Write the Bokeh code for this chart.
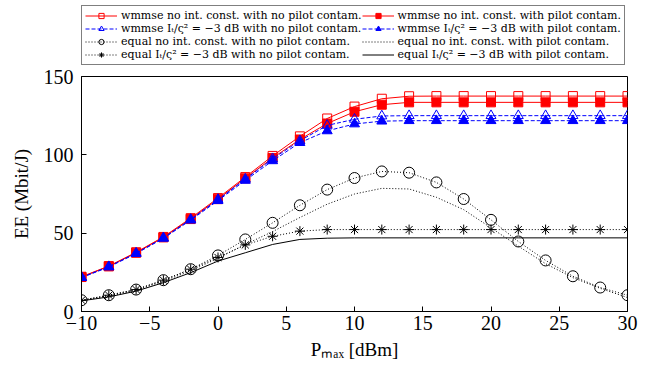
from bokeh.plotting import figure
from bokeh.layouts import column
from bokeh.models import Legend, LegendItem, Range1d, FixedTicker
from bokeh.embed import file_html
from bokeh.resources import INLINE

x = [-10, -8, -6, -4, -2, 0, 2, 4, 6, 8, 10, 12, 14, 16, 18, 20, 22, 24, 26, 28, 30]

wmmse_noint_nopc = [22.2, 29, 37.8, 47.6, 59.6, 72.4, 85.8, 99.3, 111.8, 123.2, 130.8, 135.8, 137.4,
                    137.5, 137.5, 137.5, 137.5, 137.5, 137.5, 137.5, 137.5]
wmmse_noint_pc = [22.0, 28.8, 37.5, 47.3, 59.0, 71.7, 85.0, 98.0, 109.8, 120.0, 127.5, 132.0, 133.5,
                  133.5, 133.5, 133.5, 133.5, 133.5, 133.5, 133.5, 133.5]
wmmse_3db_nopc = [21.8, 28.6, 37.2, 47.0, 58.8, 71.5, 84.5, 97.5, 109.0, 118.8, 122.7, 124.8, 125.0,
                  125.0, 125.0, 125.0, 125.0, 125.0, 125.0, 125.0, 125.0]
wmmse_3db_pc = [21.6, 28.4, 37.0, 46.7, 58.3, 70.8, 83.7, 96.2, 107.8, 115.3, 119.7, 121.5, 121.8,
                121.8, 121.8, 121.8, 121.8, 121.8, 121.8, 121.8, 121.8]
equal_noint_nopc = [7.2, 10.4, 14.0, 20.0, 27.0, 35.8, 46.0, 56.6, 67.8, 77.8, 85.2, 89.4, 88.6,
                    82.4, 71.8, 58.5, 44.7, 32.6, 22.5, 15.3, 10.4]
equal_noint_pc = [7.0, 9.8, 13.5, 19.3, 26.0, 34.0, 42.8, 51.0, 60.0, 68.5, 75.0, 78.6, 78.2,
                  72.9, 65.0, 53.4, 41.7, 30.5, 21.6, 14.8, 8.9]
equal_3db_nopc = [7.2, 10.4, 14.0, 20.0, 27.0, 34.5, 42.5, 48.0, 51.3, 52.3, 52.3, 52.3, 52.3,
                  52.3, 52.3, 52.3, 52.3, 52.3, 52.3, 52.3, 52.3]
equal_3db_pc = [6.8, 9.3, 13.0, 18.4, 24.8, 32.2, 37.5, 42.8, 46.0, 46.8, 47.0, 47.0, 47.0,
                47.0, 47.0, 47.0, 47.0, 47.0, 47.0, 47.0, 47.0]

labels = [
    "wmmse no int. const. with no pilot contam.",
    "wmmse no int. const. with pilot contam.",
    "wmmse I\u209c/\u03c2\u00b2 = \u22123 dB with no pilot contam.",
    "wmmse I\u209c/\u03c2\u00b2 = \u22123 dB with pilot contam.",
    "equal no int. const. with no pilot contam.",
    "equal no int. const. with pilot contam.",
    "equal I\u209c/\u03c2\u00b2 = \u22123 dB with no pilot contam.",
    "equal I\u209c/\u03c2\u00b2 = \u22123 dB with pilot contam.",
]
x_ticks = [-10, -5, 0, 5, 10, 15, 20, 25, 30]
y_ticks = [0, 50, 100, 150]

FONT = "Liberation Serif"
LEG_FONT = "DejaVu Serif"
RED = "#ff0000"
BLUE = "#0000ff"

series = [
    (wmmse_noint_nopc, RED, "solid", "square", False, 9),
    (wmmse_noint_pc, RED, "solid", "square", True, 9),
    (wmmse_3db_nopc, BLUE, "dashed", "triangle", False, 10),
    (wmmse_3db_pc, BLUE, "dashed", "triangle", True, 10),
    (equal_noint_nopc, "black", "dotted", "circle", False, 11),
    (equal_noint_pc, "black", "dotted", None, False, 0),
    (equal_3db_nopc, "black", "dotted", "asterisk", False, 10),
    (equal_3db_pc, "black", "solid", None, False, 0),
]
dash_map = {"solid": "solid", "dashed": "4 2", "dotted": "1 2"}


def draw(fig):
    out = []
    for (ys, col, dash, marker, filled, size) in series:
        rs = [fig.line(x, ys, line_color=col, line_width=1, line_dash=dash_map[dash])]
        if marker:
            rs.append(fig.scatter(x, ys, marker=marker, size=size, line_color=col, line_width=1,
                                  fill_color=col if filled else None))
        out.append(rs)
    return out


# ---- main plot ----
p = figure(width=650, height=299, output_backend="svg", toolbar_location=None,
           x_range=Range1d(-10, 30), y_range=Range1d(0, 150),
           min_border_left=81, min_border_right=23, min_border_top=10, min_border_bottom=54)
p.frame_align = False
p.xgrid.visible = False
p.ygrid.visible = False
p.outline_line_color = "black"
p.outline_line_width = 1
draw(p)

for ax in (p.xaxis[0], p.yaxis[0]):
    ax.major_label_text_font = FONT
    ax.major_label_text_font_size = "20px"
    ax.major_label_text_color = "black"
    ax.axis_label_text_font = FONT
    ax.axis_label_text_font_size = "19px"
    ax.axis_label_text_font_style = "normal"
    ax.axis_label_text_color = "black"
    ax.major_tick_in = 5
    ax.major_tick_out = 0
    ax.minor_tick_in = 0
    ax.minor_tick_out = 0
    ax.axis_line_color = "black"
    ax.major_tick_line_color = "black"

p.xaxis[0].ticker = FixedTicker(ticks=x_ticks)
p.yaxis[0].ticker = FixedTicker(ticks=y_ticks)
p.xaxis[0].axis_label = "P\u2098\u2090\u2093 [dBm]"
p.yaxis[0].axis_label = "EE (Mbit/J)"
p.xaxis[0].major_label_standoff = 4
p.xaxis[0].axis_label_standoff = 6
p.yaxis[0].major_label_standoff = 8
p.yaxis[0].axis_label_standoff = 9

# ---- legend strip on top ----
lf = figure(width=650, height=66, output_backend="svg", toolbar_location=None,
            x_range=Range1d(1000, 1001), y_range=Range1d(1000, 1001),
            x_axis_type=None, y_axis_type=None, min_border=0)
lf.frame_align = False
lf.xgrid.visible = False
lf.ygrid.visible = False
lf.outline_line_color = None
rends = draw(lf)
items = [LegendItem(label=lab, renderers=rs) for lab, rs in zip(labels, rends)]

# column-major fill: left column = even items, right column = odd items
order = [0, 2, 4, 6, 1, 3, 5, 7]
legend = Legend(items=[items[i] for i in order], ncols=2, location=(81, 1),
                label_text_font=LEG_FONT, label_text_font_size="11px", label_text_color="black",
                label_height=13, glyph_height=13, glyph_width=32, label_standoff=4,
                spacing=0, padding=3, margin=0, border_line_color="black", border_line_width=1,
                background_fill_alpha=1.0)
lf.add_layout(legend, "center")

layout = column(lf, p, spacing=0)
open("out.html", "w").write(file_html(layout, INLINE))
